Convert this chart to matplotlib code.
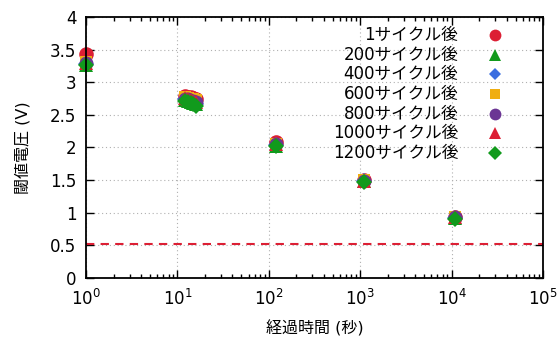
import matplotlib
matplotlib.use("Agg")
import matplotlib.pyplot as plt
from matplotlib.ticker import LogLocator, FixedLocator, NullFormatter

FONT = ['DejaVu Sans', 'Noto Sans CJK JP']
plt.rcParams['font.family'] = FONT

# --- data ---
times = [1, 12, 13, 14, 15, 16, 120, 1100, 11000]
labels = ["1サイクル後", "200サイクル後", "400サイクル後", "600サイクル後",
          "800サイクル後", "1000サイクル後", "1200サイクル後"]
v_1 = [3.44, 2.79, 2.78, 2.77, 2.76, 2.75, 2.08, 1.50, 0.94]
v_200 = [3.27, 2.73, 2.71, 2.70, 2.68, 2.66, 2.03, 1.48, 0.92]
v_400 = [3.28, 2.74, 2.72, 2.71, 2.69, 2.67, 2.04, 1.48, 0.92]
v_600 = [3.31, 2.77, 2.76, 2.75, 2.74, 2.73, 2.06, 1.50, 0.94]
v_800 = [3.29, 2.75, 2.74, 2.72, 2.71, 2.69, 2.05, 1.49, 0.93]
v_1000 = [3.30, 2.76, 2.75, 2.73, 2.72, 2.70, 2.06, 1.49, 0.93]
v_1200 = [3.26, 2.72, 2.70, 2.68, 2.66, 2.64, 2.02, 1.47, 0.91]
series = [v_1, v_200, v_400, v_600, v_800, v_1000, v_1200]
threshold = 0.52

markers = ['o', '^', 'D', 's', 'o', '^', 'D']
colors = ['#dc1f34', '#119a1c', '#3b6ee0', '#f0ae11', '#6b3594', '#dc1f34', '#119a1c']
msizes = [10.5, 10, 8, 9, 10, 10, 8.5]
lsizes = [8.5, 8, 6.5, 7.5, 8.5, 8, 7]

fig = plt.figure(figsize=(5.57, 3.41), dpi=100)
ax = fig.add_axes([0.1544, 0.1848, 0.8205, 0.7654])

for v, m, c, s in zip(series, markers, colors, msizes):
    ax.plot(times, v, linestyle='none', marker=m, color=c, markersize=s,
            markeredgewidth=0, zorder=3, clip_on=False)

ax.axhline(threshold, color='#dc1f34', linestyle=(0, (4, 3)), linewidth=1.5, zorder=2)

ax.set_xscale('log')
ax.set_xlim(1, 1e5)
ax.set_ylim(0, 4)
ax.yaxis.set_major_locator(FixedLocator([0, 0.5, 1, 1.5, 2, 2.5, 3, 3.5, 4]))
ax.set_yticklabels(['0', '0.5', '1', '1.5', '2', '2.5', '3', '3.5', '4'])
ax.xaxis.set_major_locator(LogLocator(base=10, numticks=10))
ax.xaxis.set_minor_locator(LogLocator(base=10, subs=range(2, 10), numticks=20))
ax.xaxis.set_minor_formatter(NullFormatter())

ax.grid(True, which='major', color='#b0b0b0', linestyle=(0, (1, 2.5)), linewidth=0.8, zorder=1)
ax.tick_params(which='both', direction='in', top=True, right=True, labelsize=12,
               width=1.0, colors='black')
ax.tick_params(axis='x', pad=8)
ax.tick_params(axis='y', pad=7)
ax.tick_params(which='major', length=6)
ax.tick_params(which='minor', length=3)
for sp in ax.spines.values():
    sp.set_linewidth(1.3)
    sp.set_zorder(4)

ax.set_xlabel("経過時間 (秒)", fontsize=11.5, labelpad=8)
ax.set_ylabel("閾値電圧 (V)", fontsize=11.5, labelpad=14)

# legend (right-aligned text, marker on right)
y0 = 0.931
dy = 19.7 / 261
for i, (lab, m, c, s) in enumerate(zip(labels, markers, colors, lsizes)):
    y = y0 - i * dy
    ax.text(0.814, y, lab, transform=ax.transAxes, ha='right', va='center',
            fontsize=12, family=FONT, zorder=5)
    ax.plot([0.895], [y], transform=ax.transAxes, marker=m, color=c,
            markersize=s, markeredgewidth=0, linestyle='none', clip_on=False, zorder=5)

fig.savefig("out.png", dpi=100)
